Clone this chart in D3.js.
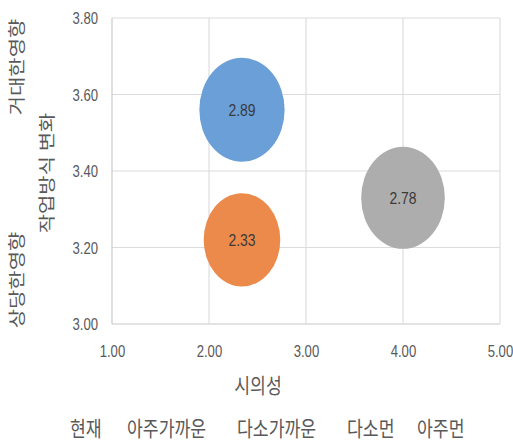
<!DOCTYPE html>
<html>
<head>
<meta charset="utf-8">
<script src="https://cdn.jsdelivr.net/npm/d3@7"></script>
<style>
  html, body { margin: 0; padding: 0; background: #fff; }
  svg { display: block; }
  text { font-family: "Liberation Sans", Arial, sans-serif; }
  .kr { font-family: "Noto Sans CJK KR", "Noto Sans", sans-serif; }
</style>
</head>
<body>
<svg id="chart" width="513" height="442"></svg>
<script>
// Bubble series: position (시의성, 작업방식 변화) and bubble size
const xValues = [2.34, 2.34, 4.00];
const yValues = [3.56, 3.22, 3.33];
const sizes = [2.89, 2.33, 2.78];
const colors = ["#6A9FD8", "#EC8A4C", "#ADADAD"];

const xTicks = [1.00, 2.00, 3.00, 4.00, 5.00];
const yTicks = [3.00, 3.20, 3.40, 3.60, 3.80];

const xTitle = "시의성";
const yTitle = "작업방식 변화";
const yTopNote = "거대한영향";
const yBottomNote = "상당한영향";
const legendLabels = ["현재", "아주가까운", "다소가까운", "다소먼", "아주먼"];

// Whole drawing is laid out in a horizontally condensed frame
const sx = 0.82;
const W = 513 / sx;
const svg = d3.select("#chart");
const g = svg.append("g").attr("transform", `scale(${sx},1)`);

const plot = { left: 112 / sx, right: 500 / sx, top: 18, bottom: 324 };

const x = d3.scaleLinear().domain([1, 5]).range([plot.left, plot.right]);
const y = d3.scaleLinear().domain([3.0, 3.8]).range([plot.bottom, plot.top]);
const r = d3.scaleSqrt().domain([0, 2.89]).range([0, 52]);

// Gridlines
g.append("g").selectAll("line").data(yTicks).join("line")
  .attr("x1", plot.left).attr("x2", plot.right)
  .attr("y1", d => y(d)).attr("y2", d => y(d))
  .attr("stroke", d => d === 3.0 ? "#c8c8c8" : "#dcdcdc")
  .attr("stroke-width", 1.2);
g.append("g").selectAll("line").data(xTicks).join("line")
  .attr("x1", d => x(d)).attr("x2", d => x(d))
  .attr("y1", plot.top).attr("y2", plot.bottom)
  .attr("stroke", d => d === 1.0 ? "#c8c8c8" : "#dcdcdc")
  .attr("stroke-width", 1.4);

// Axes (labels only; lines drawn above)
const xAxis = g.append("g")
  .attr("transform", `translate(0,${plot.bottom + 27})`)
  .call(d3.axisBottom(x).tickValues(xTicks).tickFormat(d3.format(".2f")).tickSize(0).tickPadding(0));
xAxis.select(".domain").remove();
xAxis.selectAll("text")
  .attr("font-size", 16).attr("fill", "#595959")
  .attr("dy", "0.35em").attr("y", 0)
  .style("font-family", "'Liberation Sans', Arial, sans-serif");

const yAxis = g.append("g")
  .attr("transform", `translate(${98 / sx},0)`)
  .call(d3.axisLeft(y).tickValues(yTicks).tickFormat(d3.format(".2f")).tickSize(0).tickPadding(0));
yAxis.select(".domain").remove();
yAxis.selectAll("text")
  .attr("font-size", 16).attr("fill", "#595959")
  .attr("dy", "0.35em")
  .style("font-family", "'Liberation Sans', Arial, sans-serif");

// Bubbles
const data = xValues.map((v, i) => ({ x: v, y: yValues[i], s: sizes[i], c: colors[i] }));
const bubbles = g.append("g");
bubbles.selectAll("circle").data(data).join("circle")
  .attr("cx", d => x(d.x)).attr("cy", d => y(d.y))
  .attr("r", d => r(d.s))
  .attr("fill", d => d.c);
bubbles.selectAll("text").data(data).join("text")
  .attr("x", d => x(d.x)).attr("y", d => y(d.y))
  .attr("text-anchor", "middle").attr("dy", "0.36em")
  .attr("font-size", 17).attr("fill", "#3a3a3a")
  .text(d => d.s.toFixed(2));

// Axis titles
g.append("text").attr("class", "kr")
  .attr("x", 258 / sx).attr("y", 386)
  .attr("text-anchor", "middle").attr("dy", "0.35em")
  .attr("font-size", 21).attr("fill", "#595959")
  .text(xTitle);

const vLabels = [
  { t: yTopNote, x: 17, y: 67 },
  { t: yBottomNote, x: 17, y: 280 },
  { t: yTitle, x: 47, y: 173 }
];
g.append("g").selectAll("text").data(vLabels).join("text")
  .attr("class", "kr")
  .attr("transform", d => `translate(${d.x / sx},${d.y}) rotate(-90)`)
  .attr("text-anchor", "middle").attr("dy", "0.35em")
  .attr("font-size", 21).attr("fill", "#595959")
  .text(d => d.t);

// Row of scale labels under the chart
const legendX = [70, 127, 237, 347, 417];
g.append("g").selectAll("text").data(legendLabels).join("text")
  .attr("class", "kr")
  .attr("x", (d, i) => legendX[i] / sx).attr("y", 429)
  .attr("dy", "0.35em")
  .attr("font-size", 21).attr("fill", "#595959")
  .text(d => d);
</script>
</body>
</html>
